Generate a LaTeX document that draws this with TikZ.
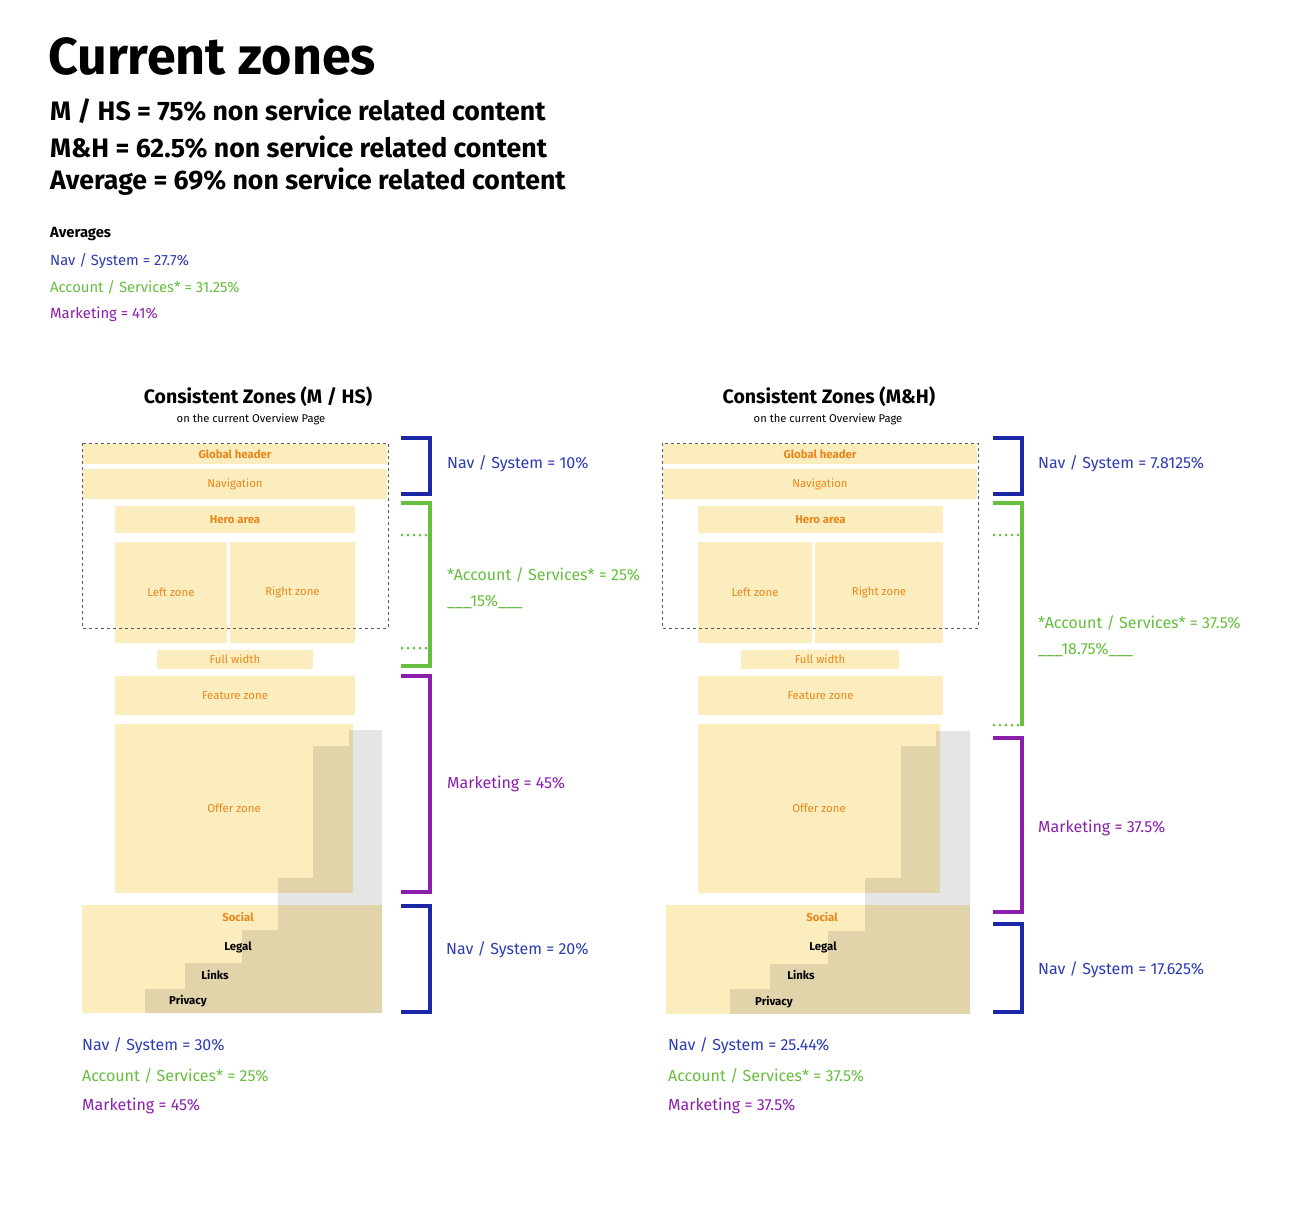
\documentclass[tikz,border=0pt]{standalone}
\usepackage{fontspec}
\setmainfont{Fira Sans}
\usetikzlibrary{positioning}

\definecolor{zoneyellow}{HTML}{FCEDBE}
\definecolor{zoneorange}{HTML}{E8881C}
\definecolor{navblue}{HTML}{2D3BB4}
\definecolor{navbrk}{HTML}{1B27A6}
\definecolor{acctgreen}{HTML}{66BF3F}
\definecolor{mktpurple}{HTML}{8C1EAD}

\tikzset{
  zone/.style={fill=zoneyellow, inner sep=0pt, text=zoneorange, font=\fontsize{11.4}{13}\selectfont},
  boldzone/.style={zone, font=\fontsize{11.4}{13}\selectfont\bfseries},
  shadow/.style={fill=black, fill opacity=0.1},
  footlabel/.style={inner sep=0pt, font=\fontsize{11.4}{13}\selectfont\bfseries},
  pagebox/.style={draw=black!65, dashed, line width=0.8pt},
  bracket/.style={line width=3.2pt},
  dottick/.style={line width=3pt, line cap=round, dash pattern=on 0pt off 6pt},
  stat/.style={anchor=west, inner sep=0pt, font=\fontsize{16}{19}\selectfont},
  small/.style={anchor=west, inner sep=0pt, font=\fontsize{14.8}{17}\selectfont}
}

\begin{document}
\begin{tikzpicture}[x=1pt, y=-1pt]
  \useasboundingbox[fill=white] (0,0) rectangle (1294,1216);

  % Heading
  \node[anchor=west, inner sep=0pt, font=\fontsize{52}{56}\selectfont\bfseries]
     (title) at (48,56) {Current zones};
  \node[anchor=west, inner sep=0pt, font=\fontsize{26.7}{30}\selectfont\bfseries]
     (sumA) at (50,111) {M / HS = 75\% non service related content};
  \node[anchor=west, inner sep=0pt, font=\fontsize{26.7}{30}\selectfont\bfseries]
     (sumB) at (50,147) {M\&H = 62.5\% non service related content};
  \node[anchor=west, inner sep=0pt, font=\fontsize{26.7}{30}\selectfont\bfseries]
     (sumC) at (50,182) {Average = 69\% non service related content};

  % Averages
  \node[small, font=\fontsize{14.8}{17}\selectfont\bfseries] (avg) at (50,234) {Averages};
  \node[small, text=navblue] (avgNav) at (50,261) {Nav / System = 27.7\%};
  \node[small, text=acctgreen] (avgAcct) at (50,287) {Account / Services* = 31.25\%};
  \node[small, text=mktpurple] (avgMkt) at (50,314) {Marketing = 41\%};

  % ---------------- Left page (M / HS) ----------------
  \node[font=\fontsize{19.5}{22}\selectfont\bfseries] (headA) at (258,397) {Consistent Zones (M / HS)};
  \node[font=\fontsize{11.2}{13}\selectfont] (subA) at (251,419) {on the current Overview Page};

  \node[boldzone, minimum width=304, minimum height=20] (ghA) at (235,454) {Global header};
  \node[zone, minimum width=304, minimum height=30] (navA) at (235,484) {Navigation};
  \node[boldzone, minimum width=240, minimum height=27] (heroA) at (235,519.5) {Hero area};
  \node[zone, minimum width=112, minimum height=101] (leftA) at (171,592.5) {Left zone};
  \node[zone, minimum width=125, minimum height=101] (rightA) at (292.5,592.5) {Right zone};
  \node[zone, minimum width=156, minimum height=19] (fullA) at (235,659.5) {Full width};
  \node[zone, minimum width=240, minimum height=39] (featA) at (235,695.5) {Feature zone};
  \node[zone, minimum width=238, minimum height=169] (offerA) at (234,808.5) {Offer zone};
  \node[zone, minimum width=300, minimum height=108] (footA) at (232,959) {};

  % Stepped shadow
  \fill[shadow] (349,730) -- (382,730) -- (382,1013) -- (145,1013) -- (145,989)
     -- (185,989) -- (185,963) -- (242,963) -- (242,930) -- (278,930)
     -- (278,878) -- (313,878) -- (313,746) -- (349,746) -- cycle;

  \node[footlabel, text=zoneorange] (socialA) at (238,917) {Social};
  \node[footlabel] (legalA) at (238,947) {Legal};
  \node[footlabel] (linksA) at (215,975) {Links};
  \node[footlabel] (privA) at (188,1001) {Privacy};

  % Viewport
  \draw[pagebox] (82,443) rectangle (388,628);

  % Brackets
  \draw[bracket, navbrk] (401,438) -- (430,438) -- (430,494) -- (401,494);
  \draw[bracket, acctgreen] (401,503) -- (430,503) -- (430,666) -- (401,666);
  \draw[dottick, acctgreen] (402,535) -- (428,535);
  \draw[dottick, acctgreen] (402,648) -- (428,648);
  \draw[bracket, mktpurple] (401,676) -- (430,676) -- (430,892) -- (401,892);
  \draw[bracket, navbrk] (401,906) -- (430,906) -- (430,1012) -- (401,1012);

  \node[stat, text=navblue] (navTopA) at (447,464) {Nav / System = 10\%};
  \node[stat, text=acctgreen] (acctA) at (447,575) {*Account / Services* = 25\%};
  \node[stat, text=acctgreen] (acctSubA) at (447,602) {\_\_\_15\%\_\_\_};
  \node[stat, text=mktpurple] (mktA) at (447,784) {Marketing = 45\%};
  \node[stat, text=navblue] (navBotA) at (446,950) {Nav / System = 20\%};

  % Totals
  \node[stat, text=navblue] (totNavA) at (82,1046) {Nav / System = 30\%};
  \node[stat, text=acctgreen] (totAcctA) at (82,1076) {Account / Services* = 25\%};
  \node[stat, text=mktpurple] (totMktA) at (82,1106) {Marketing = 45\%};

  % ---------------- Right page (M&H) ----------------
  \node[font=\fontsize{19.5}{22}\selectfont\bfseries] (headB) at (829,397) {Consistent Zones (M\&H)};
  \node[font=\fontsize{11.2}{13}\selectfont] (subB) at (828,419) {on the current Overview Page};

  \node[boldzone, minimum width=314, minimum height=20] (ghB) at (820,454) {Global header};
  \node[zone, minimum width=314, minimum height=30] (navB) at (820,484) {Navigation};
  \node[boldzone, minimum width=245, minimum height=27] (heroB) at (820.5,519.5) {Hero area};
  \node[zone, minimum width=114, minimum height=101] (leftB) at (755,592.5) {Left zone};
  \node[zone, minimum width=128, minimum height=101] (rightB) at (879,592.5) {Right zone};
  \node[zone, minimum width=158, minimum height=19] (fullB) at (820,659.5) {Full width};
  \node[zone, minimum width=245, minimum height=39] (featB) at (820.5,695.5) {Feature zone};
  \node[zone, minimum width=242, minimum height=169] (offerB) at (819,808.5) {Offer zone};
  \node[zone, minimum width=304, minimum height=109] (footB) at (818,959.5) {};

  % Stepped shadow
  \fill[shadow] (936,731) -- (970,731) -- (970,1014) -- (730,1014) -- (730,989)
     -- (770,989) -- (770,964) -- (828,964) -- (828,931) -- (865,931)
     -- (865,878) -- (901,878) -- (901,746) -- (936,746) -- cycle;

  \node[footlabel, text=zoneorange] (socialB) at (822,917) {Social};
  \node[footlabel] (legalB) at (823,947) {Legal};
  \node[footlabel] (linksB) at (801,975) {Links};
  \node[footlabel] (privB) at (774,1002) {Privacy};

  % Viewport
  \draw[pagebox] (662,443) rectangle (978,628);

  % Brackets
  \draw[bracket, navbrk] (993,438) -- (1022,438) -- (1022,494) -- (993,494);
  \draw[bracket, acctgreen] (993,503) -- (1022,503) -- (1022,726);
  \draw[dottick, acctgreen] (994,535) -- (1020,535);
  \draw[dottick, acctgreen] (994,725) -- (1020,725);
  \draw[bracket, mktpurple] (993,738) -- (1022,738) -- (1022,912) -- (993,912);
  \draw[bracket, navbrk] (993,924) -- (1022,924) -- (1022,1012) -- (993,1012);

  \node[stat, text=navblue] (navTopB) at (1038,464) {Nav / System = 7.8125\%};
  \node[stat, text=acctgreen] (acctB) at (1038,623) {*Account / Services* = 37.5\%};
  \node[stat, text=acctgreen] (acctSubB) at (1038,650) {\_\_\_18.75\%\_\_\_};
  \node[stat, text=mktpurple] (mktB) at (1038,828) {Marketing = 37.5\%};
  \node[stat, text=navblue] (navBotB) at (1038,970) {Nav / System = 17.625\%};

  % Totals
  \node[stat, text=navblue] (totNavB) at (668,1046) {Nav / System = 25.44\%};
  \node[stat, text=acctgreen] (totAcctB) at (668,1076) {Account / Services* = 37.5\%};
  \node[stat, text=mktpurple] (totMktB) at (668,1106) {Marketing = 37.5\%};
\end{tikzpicture}
\end{document}
